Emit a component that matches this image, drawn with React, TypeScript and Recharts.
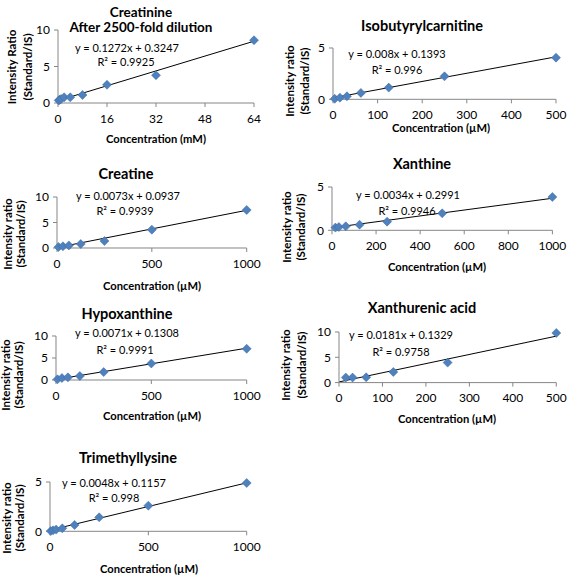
import React from 'react';
import { ScatterChart, Scatter, XAxis, YAxis, ReferenceLine } from 'recharts';

// ---- data ----
const creatinineX = [0.25, 0.5, 1, 2, 4, 8, 16, 32, 64];
const creatinineY = [0.35, 0.45, 0.55, 0.78, 0.78, 1.1, 2.5, 3.8, 8.6];
const isobutyrylX = [3.9, 15.6, 31.25, 62.5, 125, 250, 500];
const isobutyrylY = [0.05, 0.16, 0.29, 0.62, 1.14, 2.24, 4.06];
const creatineX = [7.8, 31.25, 62.5, 125, 250, 500, 1000];
const creatineY = [0.2, 0.33, 0.5, 0.78, 1.37, 3.6, 7.45];
const xanthineX = [15.6, 31.25, 62.5, 125, 250, 500, 1000];
const xanthineY = [0.31, 0.38, 0.46, 0.65, 1.0, 1.96, 3.85];
const hypoxanthineX = [7.8, 31.25, 62.5, 125, 250, 500, 1000];
const hypoxanthineY = [0.15, 0.45, 0.6, 0.9, 1.8, 3.75, 7.1];
const xanthurenicX = [15.6, 31.25, 62.5, 125, 250, 500];
const xanthurenicY = [1.0, 1.0, 1.05, 2.1, 3.95, 9.8];
const trimethylX = [3.9, 15.6, 31.25, 62.5, 125, 250, 500, 1000];
const trimethylY = [0.03, 0.1, 0.17, 0.3, 0.64, 1.42, 2.6, 4.9];

const titles = ['Creatinine', 'Isobutyrylcarnitine', 'Creatine', 'Xanthine', 'Hypoxanthine', 'Xanthurenic acid', 'Trimethyllysine'];
const subtitle = 'After 2500-fold dilution';
const slopes = [0.1272, 0.008, 0.0073, 0.0034, 0.0071, 0.0181, 0.0048];
const intercepts = [0.3247, 0.1393, 0.0937, 0.2991, 0.1308, 0.1329, 0.1157];
const eqTexts = ['y = 0.1272x + 0.3247', 'y = 0.008x + 0.1393', 'y = 0.0073x + 0.0937', 'y = 0.0034x + 0.2991', 'y = 0.0071x + 0.1308', 'y = 0.0181x + 0.1329', 'y = 0.0048x + 0.1157'];
const r2Values = ['0.9925', '0.996', '0.9939', '0.9946', '0.9991', '0.9758', '0.998'];
const xTicks = [
  [0, 16, 32, 48, 64],
  [0, 100, 200, 300, 400, 500],
  [0, 500, 1000],
  [0, 200, 400, 600, 800, 1000],
  [0, 500, 1000],
  [0, 100, 200, 300, 400, 500],
  [0, 500, 1000],
];
const yTicks = [[0, 5, 10], [0, 5], [0, 5, 10], [0, 5], [0, 5, 10], [0, 5, 10], [0, 5]];
const xLabels = ['Concentration (mM)', 'Concentration (µM)', 'Concentration (µM)', 'Concentration (µM)', 'Concentration (µM)', 'Concentration (µM)', 'Concentration (µM)'];
const yLabel1 = ['Intensity Ratio', 'Intensity ratio', 'Intensity ratio', 'Intensity ratio', 'Intensity ratio', 'Intensity ratio', 'Intensity ratio'];
const yLabel2 = '(Standard/IS)';

const seriesX = [creatinineX, isobutyrylX, creatineX, xanthineX, hypoxanthineX, xanthurenicX, trimethylX];
const seriesY = [creatinineY, isobutyrylY, creatineY, xanthineY, hypoxanthineY, xanthurenicY, trimethylY];

// ---- layout (pixels) ----
type Layout = {
  left: number; right: number; top: number; bottom: number;
  titleX: number; titleY: number; eqX: number; eqY: number; r2X: number; r2Y: number;
  xlX: number; xlY: number; yl1X: number; yl2X: number; ylY: number;
};
const layouts: Layout[] = [
  { left: 58, right: 254, top: 30, bottom: 103, titleX: 141, titleY: 12, eqX: 127, eqY: 47, r2X: 126, r2Y: 61, xlX: 156, xlY: 138, yl1X: 11, yl2X: 27, ylY: 67 },
  { left: 333, right: 556, top: 47.7, bottom: 99, titleX: 422, titleY: 25, eqX: 397, eqY: 53, r2X: 397, r2Y: 69, xlX: 441, xlY: 127, yl1X: 289, yl2X: 304, ylY: 81 },
  { left: 57, right: 246.7, top: 197.3, bottom: 248.3, titleX: 126, titleY: 173, eqX: 128, eqY: 195, r2X: 125, r2Y: 210, xlX: 152, xlY: 285, yl1X: 7, yl2X: 20, ylY: 234 },
  { left: 332.3, right: 552.7, top: 186.7, bottom: 230, titleX: 422, titleY: 163, eqX: 408, eqY: 194, r2X: 407, r2Y: 210, xlX: 437, xlY: 266, yl1X: 286, yl2X: 300, ylY: 227 },
  { left: 56, right: 246.7, top: 336, bottom: 380, titleX: 127, titleY: 313, eqX: 127, eqY: 332, r2X: 125, r2Y: 349, xlX: 152, xlY: 415, yl1X: 5, yl2X: 18, ylY: 375 },
  { left: 338.7, right: 556, top: 331.7, bottom: 382.3, titleX: 422, titleY: 307, eqX: 401, eqY: 334, r2X: 401, r2Y: 351, xlX: 447, xlY: 418, yl1X: 285, yl2X: 301, ylY: 365 },
  { left: 50, right: 246.7, top: 481.7, bottom: 531, titleX: 128, titleY: 457, eqX: 114, eqY: 482, r2X: 114, r2Y: 497, xlX: 149, xlY: 568, yl1X: 6, yl2X: 19, ylY: 518 },
];

const FONT = 'Lato, "Open Sans", sans-serif';
const AXIS = '#868686';
const MARK = '#4F81BD';

const Diamond = (props: any) => {
  const { cx, cy } = props;
  if (cx == null || cy == null) return <g />;
  const r = 4.5;
  return <polygon points={`${cx},${cy - r} ${cx + r},${cy} ${cx},${cy + r} ${cx - r},${cy}`} fill={MARK} stroke="#3a6aa6" strokeWidth={0.5} />;
};

const Panel = ({ i }: { i: number }) => {
  const L = layouts[i];
  const YW = 40;
  const XH = 30;
  const mTop = 10;
  const mRight = 26;
  const w = L.right - L.left + YW + mRight;
  const h = L.bottom - L.top + mTop + XH;
  const data = seriesX[i].map((x, k) => ({ x, y: seriesY[i][k] }));
  const xs = xTicks[i];
  const ys = yTicks[i];
  const x0 = 0;
  const x1 = Math.max(...seriesX[i]);
  return (
    <div style={{ position: 'absolute', left: L.left - YW, top: L.top - mTop, width: w, height: h }}>
      <ScatterChart width={w} height={h} margin={{ top: mTop, right: mRight, left: 0, bottom: 0 }}>
        <XAxis
          type="number"
          dataKey="x"
          domain={[xs[0], xs[xs.length - 1]]}
          ticks={xs}
          height={XH}
          stroke={AXIS}
          tickSize={4}
          tickMargin={7}
          tick={{ fill: '#000', fontSize: 12, fontFamily: FONT }}
          interval={0}
        />
        <YAxis
          type="number"
          dataKey="y"
          domain={[ys[0], ys[ys.length - 1]]}
          ticks={ys}
          width={YW}
          stroke={AXIS}
          tickSize={4}
          tickMargin={4}
          tick={{ fill: '#000', fontSize: 12, fontFamily: FONT }}
          interval={0}
        />
        <ReferenceLine
          segment={[
            { x: x0, y: slopes[i] * x0 + intercepts[i] },
            { x: x1, y: slopes[i] * x1 + intercepts[i] },
          ]}
          stroke="#000"
          strokeWidth={1}
          ifOverflow="visible"
        />
        <Scatter data={data} shape={<Diamond />} isAnimationActive={false} />
      </ScatterChart>
    </div>
  );
};

export default function App() {
  return (
    <div style={{ position: 'absolute', left: 0, top: 0, width: 567, height: 575, background: '#fff', overflow: 'hidden' }}>
      {layouts.map((_, i) => <Panel key={i} i={i} />)}
      <svg width={567} height={575} style={{ position: 'absolute', left: 0, top: 0, pointerEvents: 'none' }}>
        {layouts.map((L, i) => (
          <g key={i} fontFamily={FONT}>
            {i === 0 ? (
              <>
                <text x={L.titleX} y={L.titleY} textAnchor="middle" dominantBaseline="central" fontSize={13.5} fontWeight="bold">{titles[i]}</text>
                <text x={L.titleX} y={L.titleY + 15} textAnchor="middle" dominantBaseline="central" fontSize={13.5} fontWeight="bold">{subtitle}</text>
              </>
            ) : (
              <text x={L.titleX} y={L.titleY} textAnchor="middle" dominantBaseline="central" fontSize={14.5} fontWeight="bold">{titles[i]}</text>
            )}
            <text x={L.eqX} y={L.eqY} textAnchor="middle" dominantBaseline="central" fontSize={11}>{eqTexts[i]}</text>
            <text x={L.r2X} y={L.r2Y} textAnchor="middle" dominantBaseline="central" fontSize={11}>{'R² = ' + r2Values[i]}</text>
            <text x={L.xlX} y={L.xlY} textAnchor="middle" dominantBaseline="central" fontSize={11.2} fontWeight="bold">{xLabels[i]}</text>
            <text x={L.yl1X} y={L.ylY} textAnchor="middle" dominantBaseline="central" fontSize={11.5} fontWeight="bold" transform={`rotate(-90 ${L.yl1X} ${L.ylY})`}>{yLabel1[i]}</text>
            <text x={L.yl2X} y={L.ylY} textAnchor="middle" dominantBaseline="central" fontSize={11.5} fontWeight="bold" transform={`rotate(-90 ${L.yl2X} ${L.ylY})`}>{yLabel2}</text>
          </g>
        ))}
      </svg>
    </div>
  );
}
